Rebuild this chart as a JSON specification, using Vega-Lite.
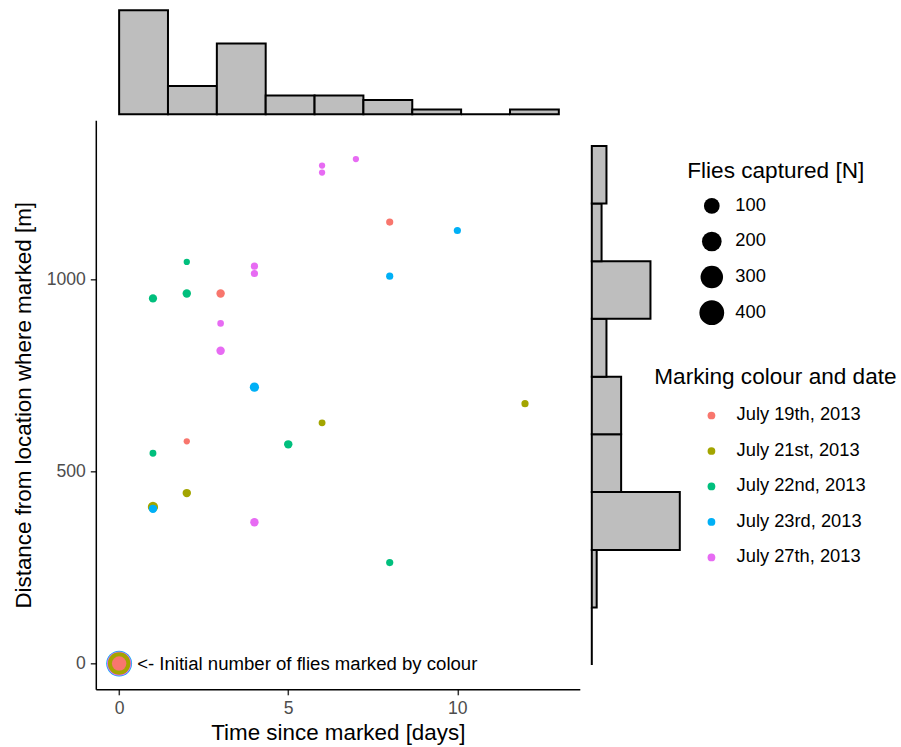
{
  "$schema": "https://vega.github.io/schema/vega-lite/v6.json",
  "padding": {"left": 11.8, "top": 9.3, "right": 5, "bottom": 5},
  "bounds": "flush",
  "spacing": 6,
  "config": {
    "font": "Liberation Sans",
    "view": {"stroke": null},
    "axis": {
      "domainColor": "black", "domainWidth": 1.5,
      "tickColor": "#333333", "tickWidth": 1.5, "tickSize": 5.5,
      "labelFont": "Liberation Sans", "labelFontSize": 17.6, "labelColor": "#4D4D4D",
      "titleFont": "Liberation Sans", "titleFontSize": 22.4, "titleFontWeight": "normal", "titleColor": "black",
      "grid": false, "labelPadding": 5
    },
    "axisX": {"titlePadding": 4},
    "axisY": {"titlePadding": 11},
    "legend": {
      "titleFont": "Liberation Sans", "titleFontSize": 22.6, "titleFontWeight": "normal", "titleColor": "black",
      "labelFont": "Liberation Sans", "labelFontSize": 18.3, "labelColor": "black",
      "padding": 0, "titleLimit": 400, "labelLimit": 300
    }
  },
  "datasets": {
    "points": [
      {"days": 0, "distance": 0, "marking": "July 23rd, 2013", "flies": 450},
      {"days": 0, "distance": 0, "marking": "July 27th, 2013", "flies": 380},
      {"days": 0, "distance": 0, "marking": "July 21st, 2013", "flies": 300},
      {"days": 0, "distance": 0, "marking": "July 22nd, 2013", "flies": 60},
      {"days": 0, "distance": 0, "marking": "July 19th, 2013", "flies": 77},
      {"days": 7, "distance": 1314, "marking": "July 27th, 2013", "flies": 3},
      {"days": 6, "distance": 1297, "marking": "July 27th, 2013", "flies": 3},
      {"days": 6, "distance": 1279, "marking": "July 27th, 2013", "flies": 3},
      {"days": 8, "distance": 1150, "marking": "July 19th, 2013", "flies": 6},
      {"days": 10, "distance": 1128, "marking": "July 23rd, 2013", "flies": 6},
      {"days": 2, "distance": 1046, "marking": "July 22nd, 2013", "flies": 3},
      {"days": 4, "distance": 1035, "marking": "July 27th, 2013", "flies": 6},
      {"days": 4, "distance": 1016, "marking": "July 27th, 2013", "flies": 6},
      {"days": 8, "distance": 1009, "marking": "July 23rd, 2013", "flies": 6},
      {"days": 3, "distance": 964, "marking": "July 19th, 2013", "flies": 12},
      {"days": 2, "distance": 964, "marking": "July 22nd, 2013", "flies": 12},
      {"days": 1, "distance": 951, "marking": "July 22nd, 2013", "flies": 11},
      {"days": 3, "distance": 886, "marking": "July 27th, 2013", "flies": 4},
      {"days": 3, "distance": 815, "marking": "July 27th, 2013", "flies": 12},
      {"days": 4, "distance": 720, "marking": "July 23rd, 2013", "flies": 17},
      {"days": 12, "distance": 677, "marking": "July 21st, 2013", "flies": 6},
      {"days": 6, "distance": 627, "marking": "July 21st, 2013", "flies": 5},
      {"days": 2, "distance": 579, "marking": "July 19th, 2013", "flies": 3},
      {"days": 5, "distance": 571, "marking": "July 22nd, 2013", "flies": 12},
      {"days": 1, "distance": 548, "marking": "July 22nd, 2013", "flies": 5},
      {"days": 2, "distance": 444, "marking": "July 21st, 2013", "flies": 12},
      {"days": 1, "distance": 408, "marking": "July 21st, 2013", "flies": 25},
      {"days": 1, "distance": 403, "marking": "July 23rd, 2013", "flies": 12},
      {"days": 4, "distance": 368, "marking": "July 27th, 2013", "flies": 12},
      {"days": 8, "distance": 263, "marking": "July 22nd, 2013", "flies": 6}
    ],
    "topHist": [
      {"start": 0, "end": 1.444, "count": 22},
      {"start": 1.444, "end": 2.889, "count": 6},
      {"start": 2.889, "end": 4.333, "count": 15},
      {"start": 4.333, "end": 5.778, "count": 4},
      {"start": 5.778, "end": 7.222, "count": 4},
      {"start": 7.222, "end": 8.667, "count": 3},
      {"start": 8.667, "end": 10.111, "count": 1},
      {"start": 10.111, "end": 11.556, "count": 0},
      {"start": 11.556, "end": 13, "count": 1}
    ],
    "rightHist": [
      {"start": -4, "end": 146, "count": 0},
      {"start": 146, "end": 296, "count": 1},
      {"start": 296, "end": 447, "count": 18},
      {"start": 447, "end": 597, "count": 6},
      {"start": 597, "end": 747, "count": 6},
      {"start": 747, "end": 898, "count": 3},
      {"start": 898, "end": 1048, "count": 12},
      {"start": 1048, "end": 1198, "count": 2},
      {"start": 1198, "end": 1348, "count": 3}
    ]
  },
  "vconcat": [
    {
      "width": 484,
      "height": 104,
      "data": {"name": "topHist"},
      "mark": {"type": "rect", "fill": "#BEBEBE", "stroke": "black", "strokeWidth": 2},
      "encoding": {
        "x": {"field": "start", "type": "quantitative", "scale": {"domain": [-0.69, 13.62], "nice": false, "zero": false}, "axis": null},
        "x2": {"field": "end"},
        "y": {"field": "count", "type": "quantitative", "scale": {"domain": [0, 22], "nice": false}, "axis": null},
        "y2": {"datum": 0}
      }
    },
    {
      "hconcat": [
        {
          "width": 484,
          "height": 569,
          "data": {"name": "points"},
          "layer": [
            {
              "mark": {"type": "point", "filled": true, "opacity": 1, "strokeWidth": 0},
              "encoding": {
                "x": {"field": "days", "type": "quantitative", "scale": {"domain": [-0.69, 13.62], "nice": false, "zero": false}, "axis": {"title": "Time since marked [days]", "values": [0, 5, 10], "format": "d"}},
                "y": {"field": "distance", "type": "quantitative", "scale": {"domain": [-67, 1415], "nice": false, "zero": false}, "axis": {"title": "Distance from location where marked [m]", "values": [0, 500, 1000], "format": "d"}},
                "color": {
                  "field": "marking", "type": "nominal",
                  "scale": {
                    "domain": ["July 19th, 2013", "July 21st, 2013", "July 22nd, 2013", "July 23rd, 2013", "July 27th, 2013"],
                    "range": ["#F8766D", "#A3A500", "#00BF7D", "#00B0F6", "#E76BF3"]
                  },
                  "legend": {
                    "title": "Marking colour and date",
                    "orient": "none", "legendX": 558.5, "legendY": 356,
                    "symbolType": "circle", "symbolSize": 60, "symbolStrokeWidth": 0, "symbolOpacity": 1,
                    "symbolOffset": 48, "labelOffset": 16,
                    "clipHeight": 20, "rowPadding": 15.5, "titlePadding": 16.6
                  }
                },
                "size": {
                  "field": "flies", "type": "quantitative",
                  "scale": {"type": "pow", "exponent": 0.7, "domain": [0, 400], "range": [20, 616]},
                  "legend": {
                    "title": "Flies captured [N]",
                    "values": [100, 200, 300, 400],
                    "orient": "none", "legendX": 591.5, "legendY": 150,
                    "symbolType": "circle",
                    "symbolOffset": 11, "labelOffset": 10,
                    "clipHeight": 30, "rowPadding": 5.6, "titlePadding": 8
                  }
                }
              }
            },
            {
              "data": {"values": [{"days": 0, "distance": 0, "label": "<- Initial number of flies marked by colour"}]},
              "mark": {"type": "text", "align": "left", "baseline": "middle", "dx": 18, "fontSize": 18.6, "color": "black", "font": "Liberation Sans"},
              "encoding": {
                "x": {"field": "days", "type": "quantitative"},
                "y": {"field": "distance", "type": "quantitative"},
                "text": {"field": "label"}
              }
            }
          ]
        },
        {
          "width": 88,
          "height": 569,
          "data": {"name": "rightHist"},
          "mark": {"type": "rect", "fill": "#BEBEBE", "stroke": "black", "strokeWidth": 2},
          "encoding": {
            "y": {"field": "start", "type": "quantitative", "scale": {"domain": [-67, 1415], "nice": false, "zero": false}, "axis": null},
            "y2": {"field": "end"},
            "x": {"field": "count", "type": "quantitative", "scale": {"domain": [0, 18], "nice": false}, "axis": null},
            "x2": {"datum": 0}
          }
        }
      ],
      "spacing": 12,
      "bounds": "flush"
    }
  ]
}
